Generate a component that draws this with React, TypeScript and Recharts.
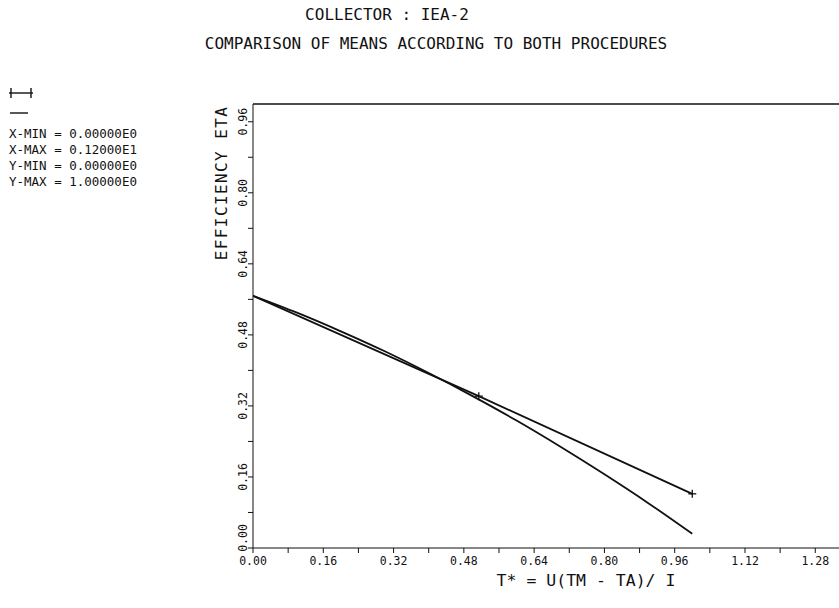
import React from "react";
import { LineChart, Line, XAxis, YAxis, ReferenceLine } from "recharts";

// mean efficiency curve, procedure A (straight fit, marked with +)
const straightX = [0, 0.514, 1.0];
const straightY = [0.568, 0.342, 0.122];

// mean efficiency curve, procedure B (quadratic fit)
const curveX = [0, 0.1, 0.2, 0.3, 0.4, 0.5, 0.6, 0.7, 0.8, 0.9, 1.0];
const curveY = [0.568, 0.53, 0.488, 0.443, 0.394, 0.342, 0.287, 0.228, 0.166, 0.101, 0.032];

const xTicks = [0, 0.08, 0.16, 0.24, 0.32, 0.4, 0.48, 0.56, 0.64, 0.72, 0.8, 0.88, 0.96, 1.04, 1.12, 1.2, 1.28];
const yTicks = [0, 0.08, 0.16, 0.24, 0.32, 0.4, 0.48, 0.56, 0.64, 0.72, 0.8, 0.88, 0.96];

const infoLines = ["X-MIN = 0.00000E0", "X-MAX = 0.12000E1", "Y-MIN = 0.00000E0", "Y-MAX = 1.00000E0"];

const straightData = straightX.map((x, i) => ({ x, y: straightY[i] }));
const curveData = curveX.map((x, i) => ({ x, y: curveY[i] }));

const FONT = "'DejaVu Sans Mono', 'Liberation Mono', monospace";
const INK = "#111";

const isLabelTick = (v: number) => Math.abs(Math.round(v / 0.16) * 0.16 - v) < 1e-6;

function XTick(props: any) {
  const { x, y, payload } = props;
  if (!isLabelTick(payload.value)) return null;
  return (
    <text x={x} y={y + 2} dy="0.71em" textAnchor="middle" fontFamily={FONT} fontSize={11.5} fill={INK}>
      {payload.value.toFixed(2)}
    </text>
  );
}

function YTick(props: any) {
  const { x, y, payload } = props;
  if (!isLabelTick(payload.value)) return null;
  const cx = x - 3;
  const cy = payload.value === 0 ? y - 10 : y;
  return (
    <text
      x={cx}
      y={cy}
      textAnchor="middle"
      dominantBaseline="central"
      transform={`rotate(-90, ${cx}, ${cy})`}
      fontFamily={FONT}
      fontSize={11.5}
      fill={INK}
    >
      {payload.value.toFixed(2)}
    </text>
  );
}

function PlusDot(props: any) {
  const { cx, cy, payload } = props;
  if (payload.x === 0) return null;
  return (
    <g stroke={INK} strokeWidth={1.3}>
      <line x1={cx - 4} y1={cy} x2={cx + 4} y2={cy} />
      <line x1={cx} y1={cy - 4} x2={cx} y2={cy + 4} />
    </g>
  );
}

export default function App() {
  return (
    <div style={{ position: "absolute", left: 0, top: 0, width: 839, height: 608, background: "#fff" }}>
      <div style={{ position: "absolute", left: 0, top: 0, width: 839, height: 608, fontFamily: FONT, color: INK }}>
        <div style={{ position: "absolute", left: 287, width: 200, top: 5, textAlign: "center", fontSize: 16, lineHeight: "20px" }}>
          COLLECTOR : IEA-2
        </div>
        <div style={{ position: "absolute", left: 136, width: 600, top: 34, textAlign: "center", fontSize: 16, lineHeight: "20px" }}>
          COMPARISON OF MEANS ACCORDING TO BOTH PROCEDURES
        </div>
        <svg style={{ position: "absolute", left: 0, top: 80 }} width={40} height={40}>
          <g stroke={INK} strokeWidth={1.4}>
            <line x1={9} y1={13} x2={33} y2={13} />
            <line x1={11} y1={8} x2={11} y2={18} />
            <line x1={31} y1={8} x2={31} y2={18} />
            <line x1={10} y1={33} x2={28} y2={33} />
          </g>
        </svg>
        {infoLines.map((t, i) => (
          <div
            key={t}
            style={{ position: "absolute", left: 9, top: 126 + i * 16, fontSize: 12.5, lineHeight: "16px", whiteSpace: "pre" }}
          >
            {t}
          </div>
        ))}
      </div>
      <LineChart width={839} height={608} margin={{ top: 104, right: 0, bottom: 30, left: 213 }}>
        <XAxis
          dataKey="x"
          type="number"
          domain={[0, 1.334]}
          ticks={xTicks}
          interval={0}
          allowDataOverflow
          height={30}
          tickSize={5}
          tickMargin={2}
          stroke={INK}
          tick={<XTick />}
          label={{
            value: "T* = U(TM - TA)/ I",
            position: "insideBottom",
            offset: -8,
            dx: 40,
            fontFamily: FONT,
            fontSize: 16.5,
            fill: INK,
          }}
        />
        <YAxis
          dataKey="y"
          type="number"
          domain={[0, 1]}
          ticks={yTicks}
          interval={0}
          allowDataOverflow
          width={40}
          tickSize={5}
          tickMargin={2}
          stroke={INK}
          tick={<YTick />}
        />
        <ReferenceLine y={1} stroke={INK} strokeWidth={1.5} />
        <Line
          data={curveData}
          dataKey="y"
          type="monotone"
          stroke={INK}
          strokeWidth={1.8}
          dot={false}
          isAnimationActive={false}
        />
        <Line
          data={straightData}
          dataKey="y"
          type="linear"
          stroke={INK}
          strokeWidth={1.8}
          dot={<PlusDot />}
          isAnimationActive={false}
        />
        <text
          x={221}
          y={183}
          textAnchor="middle"
          dominantBaseline="central"
          transform="rotate(-90, 221, 183)"
          fontFamily={FONT}
          fontSize={16}
          letterSpacing={1.4}
          fill={INK}
        >
          EFFICIENCY ETA
        </text>
      </LineChart>
    </div>
  );
}
